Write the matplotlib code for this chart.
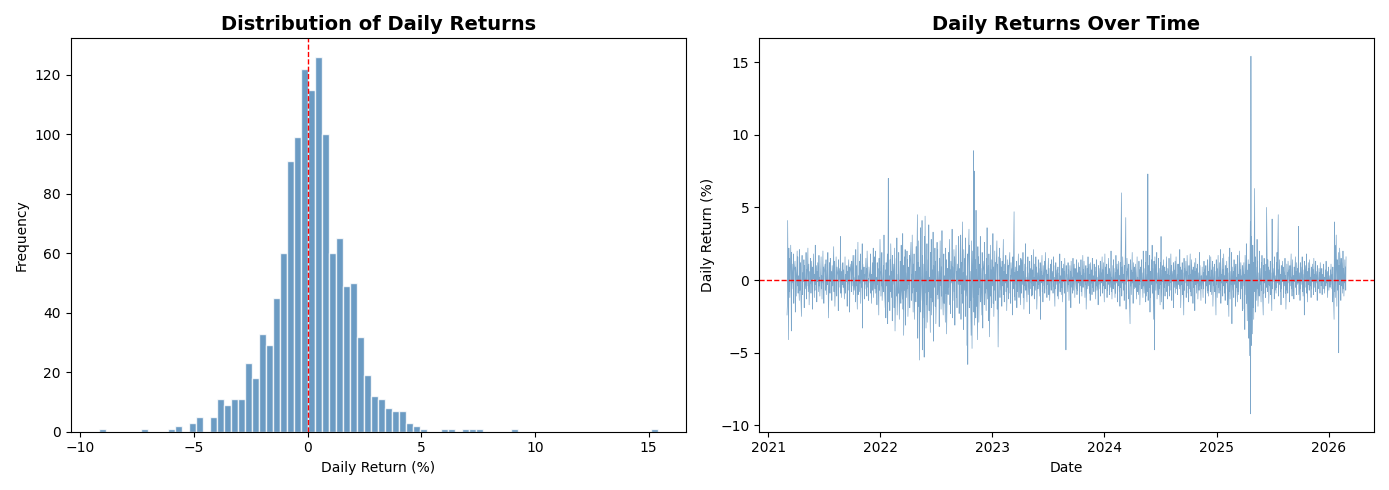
"""
plot.py
"""

import numpy as np
import pandas as pd
import matplotlib.pyplot as plt
import matplotlib.dates as mdates

# Histogram: 80 equal bins between the min and max daily return (%)
hist_min = -9.2
hist_max = 15.4
hist_counts = [1, 0, 0, 0, 0, 0, 1, 0, 0, 0, 1, 2, 0, 3, 5, 0, 5, 11, 9, 11,
               11, 23, 18, 33, 29, 45, 60, 91, 99, 122, 115, 126, 100, 60, 65,
               49, 50, 32, 19, 12, 11, 8, 7, 7, 3, 2, 1, 0, 0, 1, 1, 0, 1, 1,
               1, 0, 0, 0, 0, 1, 0, 0, 0, 0, 0, 0, 0, 0, 0, 0, 0, 0, 0, 0, 0,
               0, 0, 0, 0, 1]

# Daily returns in tenths of a percent
start_date = '2021-03-03'
returns_2021 = """
-24 -18 41 -41 22 -8 15 -12 24 8 -35 19 -6 11 -2 18 -16 6 13 -22 9 4 -11 20
-4 16 -9 3 -14 21 -7 12 -3 -25 8 17 -10 5 -1 14 -19 10 2 -6 19 -13 7 -4 22 -8
3 11 -17 6 -2 15 -9 13 -5 -20 9 1 18 -12 4 -7 24 -3 10 -15 6 -1 12 -8 17 -4 2
-11 8 16 -6 3 -13 20 -2 9 -16 5 11 -7 1 14 -10 7 -3 19 -5 -26 12 4 -9 15 -1 6
-14 10 2 -4 23 -8 13 -6 -18 7 16 -2 -11 9 3 -21 14 -5 8 -1 30 -9 6 -12 11 -3
12 -5 7 -13 2 16 -9 4 -1 10 -18 6 -3 14 -7 9 -22 5 11 -2 -8 13 -4 17 -10 3
17 -7 2 -15 21 -4 10 -20 5 26 -10 3 -8 13 -2 18 -16 7 -5 25 -33 11 -1 9 -13 4
-6 15 -3 8 -11 20 -5 1 -14 9 6 -2 18 -9 4 -16 12 -7 3 22 -12 5
16 -6 20 -9 2 -17 12 -3 8 -24 15 -7 1 28 -11 6 -4 19 -14 3 10 -8 31 -2 -19 7
"""
returns_2022 = """
-26 12 -4 18 -30 9 70 -15 3 -21 14 -8 25 -12 6 -28 17 -3 11 -19 22 -6 -35 8
15 -11 29 -24 4 -9 19 -2 -27 13 7 -16 24 -5 -13 32 -20 10 -38 16 -7 21 -31 5
-12 20 -6 14 -25 9 -3 17 -19 8 26 -14 4 -9 31 -22 11 -5 18 -27 6 2 -15 23 -8
45 -40 12 -18 27 -55 9 -22 36 -14 3 41 -48 17 -26 11 -53 30 -9 44 -33 6 -17 25
-29 14 -8 38 -21 2 -36 19 -12 28 -24 7 -15 33 -42 10 -5 22 -18 13 -30 4 26 -10
21 -13 6 -32 15 -4 27 -20 9 -11 34 -7 -24 12 18 -16 3 -29 22 -9 14 -37 8 5
-10 19 -5 28 -17 7 -23 13 -2 35 -26 9 -14 21 -8 16 -31 4 24 -12 6 -19 11 -3 30
17 -23 8 -3 31 -27 12 -9 40 -16 5 -34 21 -7 15 -25 29 -11 3 -45 18 -58 9 35
-19 24 -14 6 -38 27 -8 -47 20 -12 89 -22 75 -31 14 -26 48 -18 7 -41 23 -10 16
-29 11 -5 30 -15 8 -24 19 -2 -33 13 6 -17 26 -9 4 -21 15 -6 36 -13 10 -28 18
-3 -39 24 -11 7 -19 14 -4 32 -16 9 -25 20 -7 12 -14 5 27 -20 11 -8 -46 16 3
"""
returns_2023 = """
22 -12 15 -7 9 -18 13 -4 28 -10 6 -15 11 -2 17 -8 4 -21 14 -5 10 -13 7 19 -9
3 -16 12 -1 8 -24 16 -6 47 -11 5 -14 9 -3 13 -19 6 -8 18 -2 -12 10 4 -17 15 -5
-9 14 -3 19 -12 6 -20 11 -4 25 -7 2 -15 9 -1 16 -10 5 -23 13 -6 8 -2 17 -11
7 -10 21 -4 2 -13 11 -7 16 -1 9 -20 5 -6 14 -3 8 -11 12 -27 6 -2 17 -8 3 -15 10
-4 13 -9 1 19 -6 7 -12 4 -3 15 -10 8 -2 -14 11 5 -7 14 -1 6 -9 16 -4 2 -18 10
-6 12 -3 7 -11 4 9 -13 5 -2 18 -8 3 -10 13 -5 8 -15 11 -1 6 -9 15 -3 -48 10 4
4 -8 12 -3 7 -14 10 -1 6 -19 13 -5 2 -9 15 -7 11 -2 -12 8 3 -6 14 -10 5
-7 12 -2 9 -16 6 -4 14 -8 3 -11 17 -5 7 -1 13 -12 5 -3 10 -20 8 2 -6 16 -4 11
-9 4 -14 12 -2 7 -10 15 -5 3 -8 11 -1 6 -13 9 -4 14 -7 2 -17 10 -3 8 -6 13 -11
5 -2 16 -9 7 -4 12 -15 3 18 -6 9 -1 11 -12 4 -7 15 -3 8 -10 6 -5 20 -8 2 -13
"""
returns_2024 = """
10 -6 14 -3 8 -12 5 -9 17 -2 11 -15 7 -4 13 -8 3 -18 12 -5 60 -11 9 -2 16 -7 4
-14 10 -3 43 -20 6 -9 15 -1 8 -13 11 -5 -30 14 -4 7 -10 19 -2 5 -16 12 -6 9 -3
-5 11 -13 4 16 -8 2 -10 13 -3 7 -17 9 -1 14 -6 5 -12 20 -4 8 -9 3 12 -15
20 -11 4 -8 73 -14 10 -5 17 -22 6 -12 14 -3 24 -9 8 -27 13 -4 -48 16 -7 11 -2
19 -13 5 -10 15 -6 8 -17 12 -3 30 -15 7 -1 10 -20 14 -5 9 -11 6 -2 16 -8 4 -13
8 -4 15 -11 3 -7 18 -2 10 -14 6 -1 12 -19 7 -5 13 -9 2 16 -6 4 -10 11 -3
11 -6 21 -4 9 -19 7 -3 12 -10 5 -24 15 -7 8 -2 13 -12 6 -9 17 -4 3 -15 10 -6 18
-8 4 -11 14 -1 7 -16 9 -5 12 -21 6 -3 15 -9 8 -2 11 -13 5 -7 19 -4 10 -14 3 -6
-2 9 -12 5 -6 13 -1 8 -16 10 -4 3 -9 14 -7 6 -11 17 -3 2 -8
16 -10 7 -1 13 -18 9 -4 11 -8 6 -24 14 -3 8 -12 17 -5 2 -9 12 -7 21 -16 4 -2
"""
returns_2025 = """
15 -11 7 -4 18 -9 3 -14 10 -6 13 -2 8 -17 5 -25 16 -8 22 -13 6 -3 19 -30 9 -7
6 -12 14 -3 9 -18 11 -5 2 -15 17 -8 4 -10 20 -1 7 -13 12 -6 3 -21 10 -4
12 -20 4 -34 17 -10 25 -16 7 -28 14 -5 -40 11 -52 40 -92 154 -45 30 -37 24 -19
12 -27 63 -8 16 -22 9 -14 28 -6 13 -18 5 -11 20 -3 8 -15 12 -7 17 -4 -24 10 -9
15 -2 6 -12 11 -5 50 -8 14 -3 9 -16 7 -4 13 -10 5 -21 42 -6 11 -1 8 -13 16 -7 3
-9 12 -5 19 -2 45 -11 7 -3 14 -8 4 -17 10 -6 13 -1 9 -12 6 -4 15 -9 3 -20 11 -7
5 -9 13 -2 7 -15 10 -4 18 -6 2 -11 14 -8 3 -13 9 -1 16 -5 6 -10 12 -3
8 -2 37 -10 5 -14 12 -6 9 -3 16 -8 4 -11 7 -24 13 -5 10 -1 18 -9 6 -15 12 -3 8
-7 14 -4 2 -12 9 -6 11 -1 7 -10 15 -5 4 -8 13 -2 6 -14 10 -3 -6 8 -1 5 -9 12 -4
-3 8 -10 4 -1 11 -6 2 -9 7 -4 13 -2 5 -12 6 -1 9 -7 3 -5
"""
returns_2026 = """
7 -3 11 -6 4 -15 9 -2 -27 40 -8 24 -12 31 5 -18 14 -7 19 -50 10 -3 22 6 -14
15 -4 12 -9 20 -6 8 -11 14 -2 9 -7 16
"""

returns = np.array([float(v) / 10 for v in (returns_2021 + returns_2022 +
                                             returns_2023 + returns_2024 +
                                             returns_2025 + returns_2026
                                             ).split()])
dates = pd.bdate_range(start_date, periods=len(returns))

bar_color = 'steelblue'

fig, (ax1, ax2) = plt.subplots(1, 2, figsize=(13.89, 4.9), dpi=100)

# Left: histogram from the bin counts
edges = np.linspace(hist_min, hist_max, len(hist_counts) + 1)
ax1.bar(edges[:-1], hist_counts, width=np.diff(edges), align='edge',
        color=bar_color, alpha=0.8, edgecolor='white', linewidth=1)
ax1.axvline(0, color='red', linestyle='--', linewidth=1)
ax1.set_title('Distribution of Daily Returns', fontsize=14, fontweight='bold')
ax1.set_xlabel('Daily Return (%)')
ax1.set_ylabel('Frequency')

# Right: returns over time
ax2.plot(dates, returns, color=bar_color, linewidth=0.5, alpha=0.7)
ax2.axhline(0, color='red', linestyle='--', linewidth=1)
ax2.xaxis.set_major_locator(mdates.YearLocator())
ax2.xaxis.set_major_formatter(mdates.DateFormatter('%Y'))
ax2.set_title('Daily Returns Over Time', fontsize=14, fontweight='bold')
ax2.set_xlabel('Date')
ax2.set_ylabel('Daily Return (%)')

plt.tight_layout()
plt.savefig('out.png', dpi=100)
